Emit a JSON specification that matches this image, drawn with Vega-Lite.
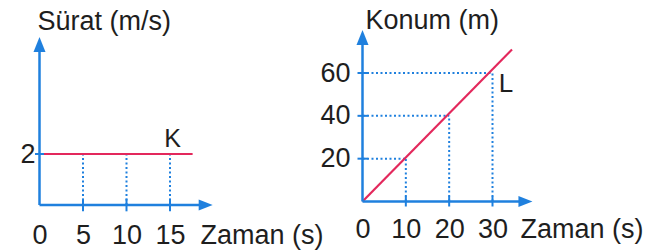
{
  "$schema": "https://vega.github.io/schema/vega-lite/v6.json",
  "padding": 0,
  "spacing": 0,
  "bounds": "flush",
  "background": "white",
  "config": {
    "view": {"stroke": null},
    "font": "Liberation Sans",
    "axis": {"labelFont": "Liberation Sans", "titleFont": "Liberation Sans", "labelColor": "#1e1e1e", "titleColor": "#1e1e1e", "labelFontSize": 27, "titleFontSize": 27, "titleFontWeight": "normal", "domain": false, "ticks": false, "grid": false, "labelFlush": false, "labelOverlap": false, "format": "d"},
    "text": {"font": "Liberation Sans", "color": "#1e1e1e"}
  },
  "hconcat": [
    {
      "width": 335,
      "height": 250,
      "layer": [
        {
          "data": {"values": [{"t": 5, "v0": 0, "v": 2}, {"t": 10, "v0": 0, "v": 2}, {"t": 15, "v0": 0, "v": 2}]},
          "mark": {"type": "rule", "color": "#1f80de", "strokeWidth": 2, "strokeDash": [2, 2.5]},
          "encoding": {
            "x": {"field": "t", "type": "quantitative", "scale": {"domain": [0, 15], "range": [39.5, 170], "nice": false, "zero": false},
                  "axis": {"values": [0, 5, 10, 15], "format": "d", "offset": -45, "labelPadding": 38, "labelBaseline": "alphabetic", "title": "Zaman (s)", "titleX": 200, "titleY": 38, "titleAlign": "left", "titleAnchor": "start", "titleBaseline": "alphabetic"}},
            "y": {"field": "v0", "type": "quantitative", "scale": {"domain": [0, 2], "range": [205, 154], "nice": false, "zero": false},
                  "axis": {"values": [2], "format": "d", "offset": -39.5, "labelPadding": 4.5, "labelBaseline": "middle", "title": "Sürat (m/s)", "titleAngle": 0, "titleX": -2.5, "titleY": 29, "titleAlign": "left", "titleAnchor": "start", "titleBaseline": "alphabetic"}},
            "y2": {"field": "v"}
          }
        },
        {
          "data": {"values": [{"t": 0, "v": 2}, {"t": 17.6, "v": 2}]},
          "mark": {"type": "line", "color": "#e3285c", "strokeWidth": 2.2},
          "encoding": {
            "x": {"field": "t", "type": "quantitative"},
            "y": {"field": "v", "type": "quantitative"}
          }
        },
        {
          "data": {"values": [{"o": 0, "xmax": 19.1, "ymax": 6.29}]},
          "layer": [
            {
              "mark": {"type": "rule", "color": "#1f80de", "strokeWidth": 2.5},
              "encoding": {
                "x": {"field": "o", "type": "quantitative"},
                "y": {"field": "o", "type": "quantitative"},
                "y2": {"field": "ymax"}
              }
            },
            {
              "mark": {"type": "rule", "color": "#1f80de", "strokeWidth": 2.5},
              "encoding": {
                "x": {"field": "o", "type": "quantitative"},
                "x2": {"field": "xmax"},
                "y": {"field": "o", "type": "quantitative"}
              }
            },
            {
              "mark": {"type": "point", "shape": "M0,-1L0.8,1L-0.8,1Z", "filled": true, "color": "#1f80de", "opacity": 1, "size": 225},
              "encoding": {
                "x": {"field": "o", "type": "quantitative"},
                "y": {"field": "ymax", "type": "quantitative"}
              }
            },
            {
              "mark": {"type": "point", "shape": "M1,0L-1,-0.8L-1,0.8Z", "filled": true, "color": "#1f80de", "opacity": 1, "size": 196},
              "encoding": {
                "x": {"field": "xmax", "type": "quantitative"},
                "y": {"field": "o", "type": "quantitative"}
              }
            }
          ]
        },
        {
          "data": {"values": [{"t": 5, "o": 0}, {"t": 10, "o": 0}, {"t": 15, "o": 0}]},
          "mark": {"type": "point", "shape": "M0,-1L0,1", "filled": false, "color": "#1f80de", "opacity": 1, "strokeWidth": 2, "size": 160},
          "encoding": {
            "x": {"field": "t", "type": "quantitative"},
            "y": {"field": "o", "type": "quantitative"}
          }
        },
        {
          "data": {"values": [{"o": 0, "v": 2}]},
          "mark": {"type": "point", "shape": "M-1,0L1,0", "filled": false, "color": "#1f80de", "opacity": 1, "strokeWidth": 2, "size": 81},
          "encoding": {
            "x": {"field": "o", "type": "quantitative"},
            "y": {"field": "v", "type": "quantitative"}
          }
        },
        {
          "data": {"values": [{"label": "K", "t": 15.3, "v": 2.27}]},
          "mark": {"type": "text", "fontSize": 25, "align": "center", "baseline": "alphabetic"},
          "encoding": {
            "x": {"field": "t", "type": "quantitative"},
            "y": {"field": "v", "type": "quantitative"},
            "text": {"field": "label", "type": "nominal"}
          }
        }
      ]
    },
    {
      "width": 330,
      "height": 250,
      "layer": [
        {
          "data": {"values": [{"t": 10, "p": 20, "o": 0}, {"t": 20, "p": 40, "o": 0}, {"t": 30, "p": 60, "o": 0}]},
          "layer": [
            {
              "mark": {"type": "rule", "color": "#1f80de", "strokeWidth": 2, "strokeDash": [2, 2.5]},
              "encoding": {
                "x": {"field": "t", "type": "quantitative", "scale": {"domain": [0, 30], "range": [27.5, 157.5], "nice": false, "zero": false},
                      "axis": {"values": [0, 10, 20, 30], "format": "d", "offset": -48.5, "labelPadding": 35.5, "labelBaseline": "alphabetic", "title": "Zaman (s)", "titleX": 185, "titleY": 35.5, "titleAlign": "left", "titleAnchor": "start", "titleBaseline": "alphabetic"}},
                "y": {"field": "o", "type": "quantitative", "scale": {"domain": [0, 60], "range": [201.5, 73], "nice": false, "zero": false},
                      "axis": {"values": [20, 40, 60], "format": "d", "offset": -27.5, "labelPadding": 12.5, "labelBaseline": "middle", "title": "Konum (m)", "titleAngle": 0, "titleX": 2.5, "titleY": 28, "titleAlign": "left", "titleAnchor": "start", "titleBaseline": "alphabetic"}},
                "y2": {"field": "p"}
              }
            },
            {
              "mark": {"type": "rule", "color": "#1f80de", "strokeWidth": 2, "strokeDash": [2, 2.5]},
              "encoding": {
                "x": {"field": "o", "type": "quantitative"},
                "x2": {"field": "t"},
                "y": {"field": "p", "type": "quantitative"}
              }
            },
            {
              "mark": {"type": "point", "shape": "M0,-1L0,1", "filled": false, "color": "#1f80de", "opacity": 1, "strokeWidth": 2, "size": 100},
              "encoding": {
                "x": {"field": "t", "type": "quantitative"},
                "y": {"field": "o", "type": "quantitative"}
              }
            },
            {
              "mark": {"type": "point", "shape": "M-1,0L1,0", "filled": false, "color": "#1f80de", "opacity": 1, "strokeWidth": 2, "size": 100},
              "encoding": {
                "x": {"field": "o", "type": "quantitative"},
                "y": {"field": "p", "type": "quantitative"}
              }
            }
          ]
        },
        {
          "data": {"values": [{"t": 0, "p": 0}, {"t": 34.5, "p": 71}]},
          "mark": {"type": "line", "color": "#e3285c", "strokeWidth": 2.2},
          "encoding": {
            "x": {"field": "t", "type": "quantitative"},
            "y": {"field": "p", "type": "quantitative"}
          }
        },
        {
          "data": {"values": [{"o": 0, "xmax": 37.6, "ymax": 76.6}]},
          "layer": [
            {
              "mark": {"type": "rule", "color": "#1f80de", "strokeWidth": 2.5},
              "encoding": {
                "x": {"field": "o", "type": "quantitative"},
                "y": {"field": "o", "type": "quantitative"},
                "y2": {"field": "ymax"}
              }
            },
            {
              "mark": {"type": "rule", "color": "#1f80de", "strokeWidth": 2.5},
              "encoding": {
                "x": {"field": "o", "type": "quantitative"},
                "x2": {"field": "xmax"},
                "y": {"field": "o", "type": "quantitative"}
              }
            },
            {
              "mark": {"type": "point", "shape": "M0,-1L0.8,1L-0.8,1Z", "filled": true, "color": "#1f80de", "opacity": 1, "size": 225},
              "encoding": {
                "x": {"field": "o", "type": "quantitative"},
                "y": {"field": "ymax", "type": "quantitative"}
              }
            },
            {
              "mark": {"type": "point", "shape": "M1,0L-1,-0.8L-1,0.8Z", "filled": true, "color": "#1f80de", "opacity": 1, "size": 196},
              "encoding": {
                "x": {"field": "xmax", "type": "quantitative"},
                "y": {"field": "o", "type": "quantitative"}
              }
            }
          ]
        },
        {
          "data": {"values": [{"label": "L", "t": 33.1, "p": 51.1}]},
          "mark": {"type": "text", "fontSize": 26, "align": "center", "baseline": "alphabetic"},
          "encoding": {
            "x": {"field": "t", "type": "quantitative"},
            "y": {"field": "p", "type": "quantitative"},
            "text": {"field": "label", "type": "nominal"}
          }
        }
      ]
    }
  ]
}
